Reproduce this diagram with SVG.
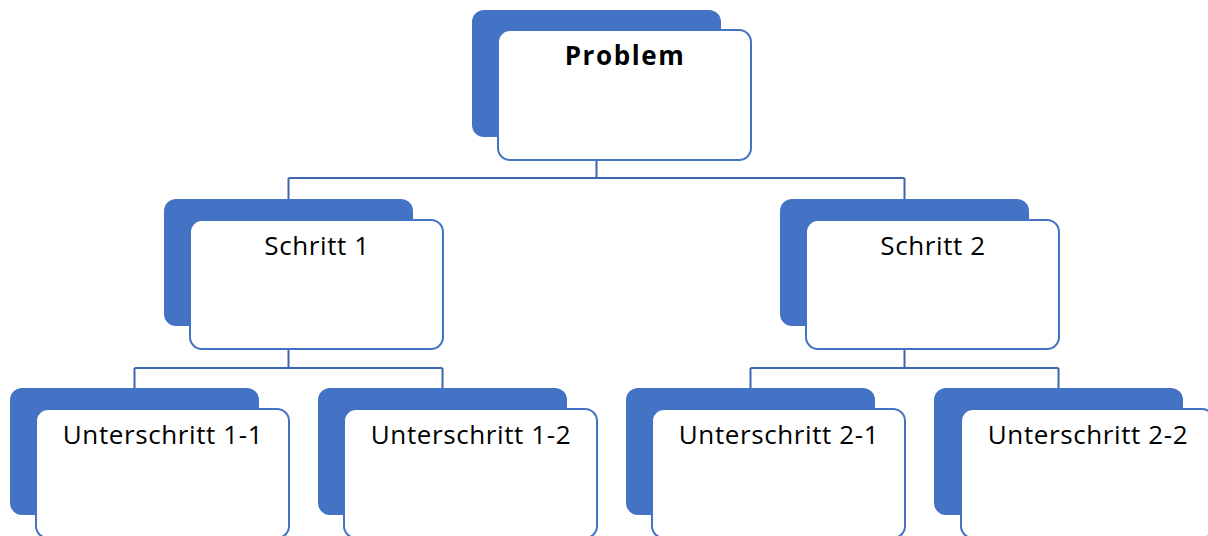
<svg xmlns="http://www.w3.org/2000/svg" width="1208" height="536" viewBox="0 0 1208 536">
<style>
.back{fill:#4472C4}
.front{fill:#fff;stroke:#4472C4;stroke-width:2}
.lbl{font-family:"Open Sans","Liberation Sans",sans-serif;font-size:26px;letter-spacing:0.6px;fill:#000;text-anchor:middle}
.bold{font-weight:bold;letter-spacing:1.6px}
.conn{fill:none;stroke:#3E66AE;stroke-width:2}
</style>
<rect width="1208" height="536" fill="#fff"/>
<g id="connectors">
<path class="conn" d="M596.5 160V178M288.5 178H904.5M288.5 178V199M904.5 178V199"/>
<path class="conn" d="M288.5 349V368M134.5 368H442.5M134.5 368V388M442.5 368V388"/>
<path class="conn" d="M904.5 349V368M750.5 368H1058.5M750.5 368V388M1058.5 368V388"/>
</g>
<g id="problem">
<rect class="back" x="472" y="10" width="249" height="127" rx="12"/>
<rect class="front" x="498" y="30" width="253" height="130" rx="12"/>
<text class="lbl bold" x="625" y="65">Problem</text>
</g>
<g id="schritt1">
<rect class="back" x="164" y="199" width="249" height="127" rx="12"/>
<rect class="front" x="190" y="220" width="253" height="129" rx="12"/>
<text class="lbl" x="317" y="255">Schritt 1</text>
</g>
<g id="schritt2">
<rect class="back" x="780" y="199" width="249" height="127" rx="12"/>
<rect class="front" x="806" y="220" width="253" height="129" rx="12"/>
<text class="lbl" x="933" y="255">Schritt 2</text>
</g>
<g id="unterschritt11">
<rect class="back" x="10" y="388" width="249" height="127" rx="12"/>
<rect class="front" x="36" y="409" width="253" height="129" rx="12"/>
<text class="lbl" x="163" y="444">Unterschritt 1-1</text>
</g>
<g id="unterschritt12">
<rect class="back" x="318" y="388" width="249" height="127" rx="12"/>
<rect class="front" x="344" y="409" width="253" height="129" rx="12"/>
<text class="lbl" x="471" y="444">Unterschritt 1-2</text>
</g>
<g id="unterschritt21">
<rect class="back" x="626" y="388" width="249" height="127" rx="12"/>
<rect class="front" x="652" y="409" width="253" height="129" rx="12"/>
<text class="lbl" x="779" y="444">Unterschritt 2-1</text>
</g>
<g id="unterschritt22">
<rect class="back" x="934" y="388" width="249" height="127" rx="12"/>
<rect class="front" x="961" y="409" width="253" height="129" rx="12"/>
<text class="lbl" x="1088" y="444">Unterschritt 2-2</text>
</g>
</svg>
